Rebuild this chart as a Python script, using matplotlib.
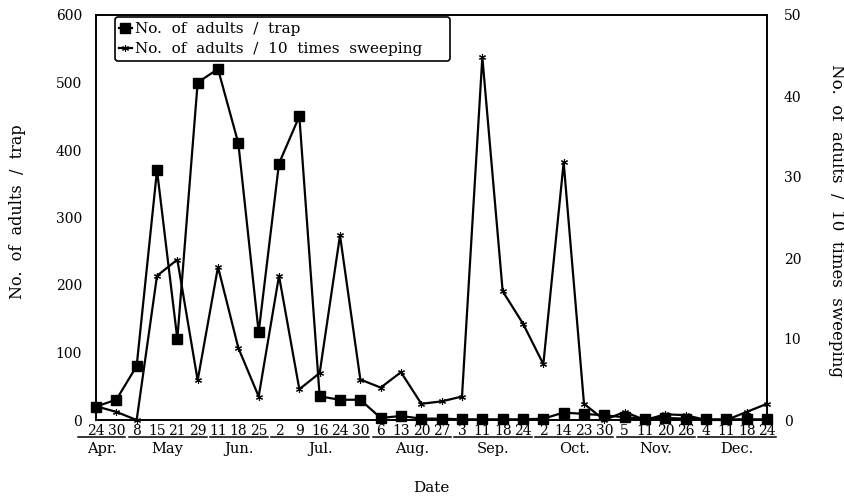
import matplotlib
matplotlib.use("Agg")
import matplotlib.pyplot as plt
import matplotlib.transforms as mtransforms
from matplotlib.lines import Line2D

plt.rcParams['font.family'] = ['DejaVu Serif']

months = ["Apr.", "May", "Jun.", "Jul.", "Aug.", "Sep.", "Oct.", "Nov.", "Dec."]
days = [
    ["24", "30"],
    ["8", "15", "21", "29"],
    ["11", "18", "25"],
    ["2", "9", "16", "24", "30"],
    ["6", "13", "20", "27"],
    ["3", "11", "18", "24"],
    ["2", "14", "23", "30"],
    ["5", "11", "20", "26"],
    ["4", "11", "18", "24"],
]

trap = [20, 30, 80, 370, 120, 500, 520, 410, 130, 380, 450, 35, 30, 30,
        3, 6, 2, 2, 1, 1, 1, 1, 2, 11, 9, 7, 4, 2, 3, 2, 1, 1, 1, 1]
sweep = [1.7, 1.0, 0, 17.8, 19.8, 4.9, 18.9, 8.9, 2.9, 17.8, 3.8, 5.8, 22.8, 5.0,
         4.0, 5.9, 2.0, 2.3, 2.9, 44.8, 15.9, 11.9, 6.9, 31.8, 2.0, 0, 1.0, 0,
         0.7, 0.6, 0, 0, 1.0, 2.0]

labels = [d for grp in days for d in grp]
x = list(range(len(labels)))

fig = plt.figure(figsize=(8.45, 4.99), dpi=100)
ax = fig.add_axes([96/845, 1-420/499, 671/845, 405/499])
ax2 = ax.twinx()

ax.plot(x, trap, color='black', lw=1.6, marker='s', ms=6.5, clip_on=False, zorder=5,
        label="No.  of  adults  /  trap")
ax2.plot(x, sweep, color='black', lw=1.6, marker=(6, 2, 0), ms=5, mew=0.8, clip_on=False,
         label="No.  of  adults  /  10  times  sweeping")
ax.set_zorder(ax2.get_zorder() + 1)
ax.patch.set_visible(False)

ax.set_xlim(0, len(labels) - 1)
ax.set_ylim(0, 600)
ax2.set_ylim(0, 50)
ax.set_yticks([0, 100, 200, 300, 400, 500, 600])
ax2.set_yticks([0, 10, 20, 30, 40, 50])
ax.set_xticks(x)
ax.set_xticklabels(labels)
ax.tick_params(axis='both', length=0, labelsize=10)
ax.tick_params(axis='x', pad=3)
ax.tick_params(axis='y', pad=10)
ax2.tick_params(axis='y', length=0, labelsize=10, pad=12)
for a in (ax, ax2):
    for s in a.spines.values():
        s.set_linewidth(1.2)

trans = mtransforms.blended_transform_factory(ax.transData, ax.transAxes)
start = 0
for i, (m, grp) in enumerate(zip(months, days)):
    end = start + len(grp) - 1
    x0 = start - (0.9 if i == 0 else 0.4)
    x1 = end + 0.45
    ax.add_line(Line2D([x0, x1], [-0.042, -0.042], transform=trans, color='black',
                       lw=1.1, clip_on=False))
    ax.text((x0 + x1) / 2, -0.055, m, transform=trans, ha='center', va='top', fontsize=10.5)
    start = end + 1

ax.text(0.5, -0.15, "Date", transform=ax.transAxes, ha='center', va='top', fontsize=11)
fig.text(18/845, 1-212/499, "No.  of  adults  /  trap", rotation=90, ha='center',
         va='center', fontsize=11.5)
fig.text(837/845, 1-220/499, "No.  of  adults  /  10  times  sweeping", rotation=-90,
         ha='center', va='center', fontsize=12)

h1, l1 = ax.get_legend_handles_labels()
h2, l2 = ax2.get_legend_handles_labels()
leg = ax.legend(h1 + h2, l1 + l2, loc='upper left',
                bbox_to_anchor=(0.028, 0.89, 0.499, 0.104), mode='expand',
                borderaxespad=0, fontsize=11, handlelength=0.8, handletextpad=0.2,
                labelspacing=0.4, borderpad=0.3, fancybox=True, framealpha=1,
                edgecolor='black')
leg.get_frame().set_linewidth(1.2)
leg.set_zorder(10)

fig.savefig("out.png", dpi=100, facecolor='white')
